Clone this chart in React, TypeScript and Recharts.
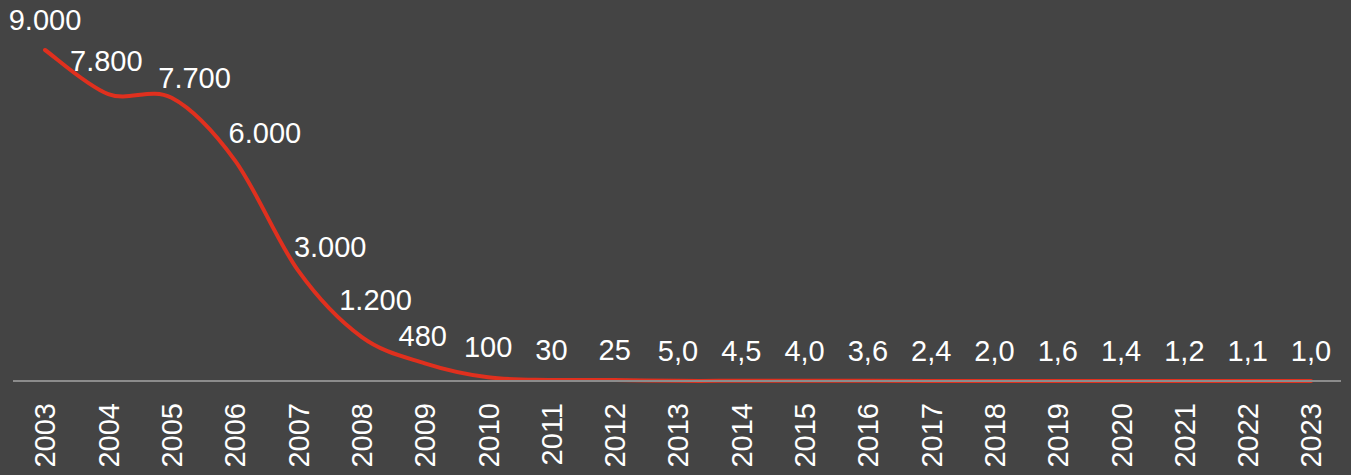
import { LineChart, Line, XAxis, YAxis, LabelList } from 'recharts';

const years = [
  '2003', '2004', '2005', '2006', '2007', '2008', '2009', '2010', '2011', '2012', '2013',
  '2014', '2015', '2016', '2017', '2018', '2019', '2020', '2021', '2022', '2023',
];
const values = [
  9000, 7800, 7700, 6000, 3000, 1200, 480, 100, 30, 25, 5.0,
  4.5, 4.0, 3.6, 2.4, 2.0, 1.6, 1.4, 1.2, 1.1, 1.0,
];
const valueLabels = [
  '9.000', '7.800', '7.700', '6.000', '3.000', '1.200', '480', '100', '30', '25', '5,0',
  '4,5', '4,0', '3,6', '2,4', '2,0', '1,6', '1,4', '1,2', '1,1', '1,0',
];

// label nudges (px) so labels clear the steep part of the curve
const labelNudge: [number, number][] = [
  [0, 0], [-2, -3], [23, 10], [30, 3], [32, 6], [14, -7], [-2, 3],
];

const data = years.map((year, i) => ({ year, value: values[i], label: valueLabels[i] }));

const FONT = '"Liberation Sans", Arial, sans-serif';
const FONT_SIZE = 29;

// Excel-like smoothed line (Catmull-Rom as cubic beziers)
const smooth = (context: any) => {
  let pts: [number, number][] = [];
  return {
    areaStart() {},
    areaEnd() {},
    lineStart() {
      pts = [];
    },
    point(x: number, y: number) {
      pts.push([+x, +y]);
    },
    lineEnd() {
      if (!pts.length) return;
      context.moveTo(pts[0][0], pts[0][1]);
      for (let i = 0; i < pts.length - 1; i++) {
        const p0 = pts[i - 1] || pts[i];
        const p1 = pts[i];
        const p2 = pts[i + 1];
        const p3 = pts[i + 2] || p2;
        context.bezierCurveTo(
          p1[0] + (p2[0] - p0[0]) / 6,
          p1[1] + (p2[1] - p0[1]) / 6,
          p2[0] - (p3[0] - p1[0]) / 6,
          p2[1] - (p3[1] - p1[1]) / 6,
          p2[0],
          p2[1],
        );
      }
    },
  };
};

const YearTick = (props: any) => {
  const { x, y, payload } = props;
  return (
    <text
      transform={`translate(${x},${y + 14}) rotate(-90)`}
      textAnchor="end"
      dy="0.36em"
      fill="#ffffff"
      fontFamily={FONT}
      fontSize={FONT_SIZE}
    >
      {payload.value}
    </text>
  );
};

const ValueLabel = (props: any) => {
  const { x, y, index, value } = props;
  const [dx, dy] = labelNudge[index] || [0, 0];
  return (
    <text
      x={x + dx}
      y={y - 20 + dy}
      textAnchor="middle"
      fill="#ffffff"
      fontFamily={FONT}
      fontSize={FONT_SIZE}
    >
      {value}
    </text>
  );
};

export default function App() {
  return (
    <div style={{ position: 'absolute', left: 0, top: 0, width: 1351, height: 475, background: '#444444' }}>
      <LineChart width={1351} height={475} data={data} margin={{ top: 50, right: 10, left: 13, bottom: 0 }}>
        <XAxis
          dataKey="year"
          height={94}
          interval={0}
          padding={{ left: 32, right: 30 }}
          axisLine={{ stroke: '#8c8c8c', strokeWidth: 2 }}
          tickLine={false}
          tick={<YearTick />}
        />
        <YAxis hide domain={[0, 9000]} />
        <Line
          dataKey="value"
          type={smooth as any}
          stroke="#e0301e"
          strokeWidth={4}
          strokeLinecap="round"
          dot={false}
          isAnimationActive={false}
        >
          <LabelList dataKey="label" content={<ValueLabel />} />
        </Line>
      </LineChart>
    </div>
  );
}
